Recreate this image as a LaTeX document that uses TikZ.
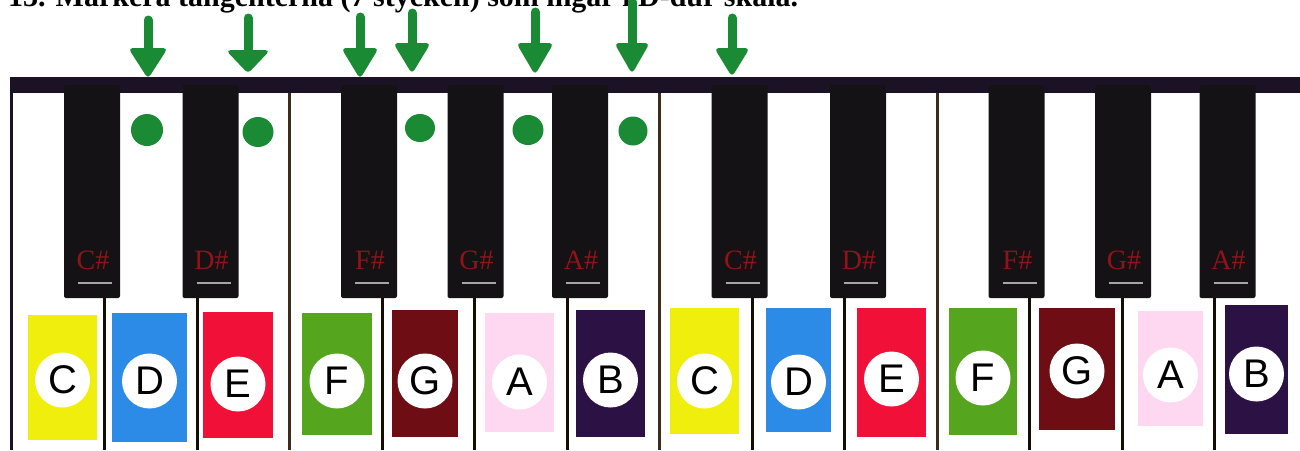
\documentclass[tikz,border=0pt]{standalone}
\usepackage{fontspec}
\setmainfont{Liberation Serif}
\newfontfamily\lettersf{Liberation Sans}
\usetikzlibrary{shapes.geometric}
\definecolor{kyellow}{HTML}{F0EE0C}
\definecolor{kblue}{HTML}{2B8BE6}
\definecolor{kred}{HTML}{F01038}
\definecolor{kgreen}{HTML}{55A61E}
\definecolor{kmaroon}{HTML}{6E0E14}
\definecolor{kpink}{HTML}{FDD8F0}
\definecolor{kpurple}{HTML}{2C1244}
\definecolor{pen}{HTML}{1A8A34}
\definecolor{keyblack}{HTML}{141214}
\definecolor{barcol}{HTML}{1C1226}
\definecolor{sharpred}{HTML}{A8141A}
\definecolor{seplight}{HTML}{3B2C1E}
\tikzset{
  keyrect/.style={draw=none, inner sep=0, rectangle},
  lettercircle/.style={circle, fill=white, draw=none, inner sep=0, minimum size=55,
     font=\lettersf\fontsize{40}{40}\selectfont, text=black},
  blackkey/.style={fill=keyblack, draw=none, rounded corners=2},
  sharplabel/.style={inner sep=0, text=sharpred, text opacity=0.85,
     font=\fontsize{28}{28}\selectfont},
  sepline/.style={draw=black!90!brown, line width=3},
  fullsep/.style={draw=seplight, line width=3},
  dot/.style={ellipse, fill=pen, draw=none, inner sep=0},
  shaft/.style={draw=pen, line width=9, line cap=round},
  arrowhead/.style={fill=pen, draw=pen, line width=2, rounded corners=3}
}
\begin{document}
\begin{tikzpicture}[x=1pt, y=-1pt]
\useasboundingbox (0,0) rectangle (1300,450);
\clip (0,0) rectangle (1300,450);
\fill[white] (0,0) rectangle (1300,450);

% title (cut off at top, as in the reference)
\node[anchor=base west, inner sep=0, font=\bfseries\fontsize{30}{30}\selectfont] (title) at (8,6)
  {13. Markera tangenterna (7 stycken) som ingår i D-dur skala.};

% top bar and left border
\fill[barcol] (10,77) rectangle (1300,93);
\draw[barcol, line width=3] (11,77) -- (11,450);

% separators between white keys
\foreach \k in {1,2,4,5,6,8,9,11,12,13}{
  \draw[sepline] ({12+92.5*\k},297) -- ({12+92.5*\k},450);
}
\foreach \k in {3,7,10}{
  \draw[fullsep] ({12+92.5*\k},93) -- ({12+92.5*\k},450);
}

% black keys
\foreach \o [count=\j] in {0,647.5}{
  \foreach \off/\nm [count=\i] in {80/C\#,198.5/D\#,357/F\#,463.5/G\#,568/A\#}{
    \path[blackkey] ({12+\o+\off-28},85) rectangle ({12+\o+\off+28},298);
    \node[sharplabel] (bk\j\i) at ({12+\o+\off+1},260) {\nm};
    \draw[gray!70, line width=1.2] ({12+\o+\off-14},283) -- ({12+\o+\off+20},283);
  }
}

% coloured note rectangles with letters
\foreach \cx/\ty/\by/\w/\col/\L/\cy [count=\n] in {
  62.5/315/440/69/kyellow/C/380,
  149.5/313/442/75/kblue/D/381,
  238/312/438/70/kred/E/384,
  337/313/435/70/kgreen/F/381,
  425/310/437/66/kmaroon/G/381,
  519.5/313/432/69/kpink/A/382,
  610.5/310/437/69/kpurple/B/380,
  704.5/308/434/69/kyellow/C/381,
  798.5/308/432/65/kblue/D/382,
  891.5/308/437/69/kred/E/379,
  983/308/435/68/kgreen/F/378,
  1077/308/430/76/kmaroon/G/371,
  1170.5/311/426/65/kpink/A/375,
  1256.5/305/434/63/kpurple/B/374}{
  \node[keyrect, fill=\col, minimum width=\w, minimum height={\by-\ty}] (rect\n) at (\cx,{(\ty+\by)/2}) {};
  \node[lettercircle] (lab\n) at (\cx,\cy) {\L};
}

% green dots
\node[dot, minimum width=32, minimum height=32] (dot1) at (147,130) {};
\node[dot, minimum width=31, minimum height=30] (dot2) at (258,132) {};
\node[dot, minimum width=30, minimum height=28] (dot3) at (420,128) {};
\node[dot, minimum width=31, minimum height=30] (dot4) at (528,130) {};
\node[dot, minimum width=29, minimum height=29] (dot5) at (633,131) {};

% green arrows
\foreach \x/\t/\h/\b/\hw [count=\a] in {
  148/20/45/77/18,
  248/18/47/72/20,
  360/17/45/77/17,
  412/13/40/72/17,
  535/12/40/73/17,
  632/2/40/72/16,
  732/18/45/75/16}{
  \coordinate (at\a) at (\x,\t);
  \coordinate (ah\a) at (\x,\h+4);
  \coordinate (ab\a) at (\x,\b);
  \draw[shaft] (at\a) -- (ah\a);
  \fill[arrowhead] ([xshift=-\hw]ah\a) -- ([xshift=\hw]ah\a) -- (ab\a) -- cycle;
}
\end{tikzpicture}
\end{document}
